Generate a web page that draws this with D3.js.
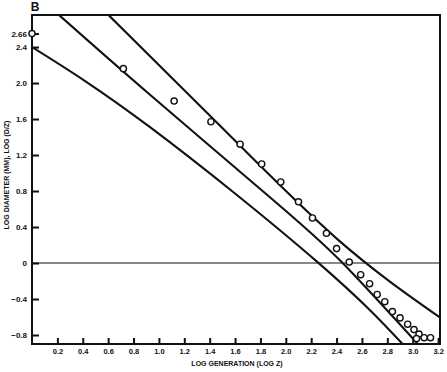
<!DOCTYPE html>
<html>
<head>
<meta charset="utf-8">
<script src="https://cdn.jsdelivr.net/npm/d3@7/dist/d3.min.js"></script>
<style>
  body { margin: 0; background: #fff; }
  svg { display: block; }
</style>
</head>
<body>
<div id="chart"></div>
<script>
// Log diameter vs log generation, panel B

// Measured points [log generation, log diameter]
const points = [
  [0, 2.55], [0.72, 2.16], [1.12, 1.80], [1.41, 1.57], [1.64, 1.32],
  [1.81, 1.10], [1.96, 0.90], [2.10, 0.68], [2.21, 0.50], [2.32, 0.33],
  [2.40, 0.16], [2.50, 0.01], [2.59, -0.13], [2.66, -0.23], [2.72, -0.35],
  [2.78, -0.43], [2.84, -0.54], [2.90, -0.61], [2.96, -0.68], [3.01, -0.74],
  [3.05, -0.79], [3.03, -0.84], [3.09, -0.83], [3.14, -0.83]
];

// Three fitted curves, a few points
const upperLine = [[0.60, 2.76], [1.50, 1.50], [2.41, 0.26], [3.22, -0.61]];
const middleLine = [[0.21, 2.76], [0.93, 1.87], [1.90, 0.70], [2.44, 0.01], [3.04, -0.90]];
const lowerLine = [[0, 2.40], [0.93, 1.51], [2.25, 0.01], [2.92, -0.90]];

// Tick values and the labels printed beside them
const xTickValues = [0.2, 0.4, 0.6, 0.8, 1.0, 1.2, 1.4, 1.6, 1.8, 2.0, 2.2, 2.4, 2.6, 2.8, 3.0, 3.2];
const xTickLabels = ['0.2', '0.4', '0.6', '0.8', '1.0', '1.2', '1.4', '1.6', '1.8', '2.0', '2.2', '2.4', '2.6', '2.8', '3.0', '3.2'];
const yTickValues = [2.55, 2.4, 2.0, 1.6, 1.2, 0.8, 0.4, 0, -0.4, -0.8];
const yTickLabels = ['2.66', '2.4', '2.0', '1.6', '1.2', '0.8', '0.4', '0', '\u22120.4', '\u22120.8'];

const W = 447, H = 372;
const plot = { left: 32, right: 440, top: 15, bottom: 344 };
const ink = '#111';
const font = '"Liberation Sans", Arial, sans-serif';

const svg = d3.select('#chart').append('svg')
  .attr('width', W)
  .attr('height', H);

const x = d3.scaleLinear().domain([0, 3.215]).range([plot.left, plot.right]);
const y = d3.scaleLinear().domain([-0.9, 2.756]).range([plot.bottom, plot.top]);

svg.append('clipPath').attr('id', 'clip')
  .append('rect')
  .attr('x', plot.left).attr('y', plot.top)
  .attr('width', plot.right - plot.left)
  .attr('height', plot.bottom - plot.top);

// zero line
svg.append('line')
  .attr('x1', plot.left).attr('x2', plot.right)
  .attr('y1', y(0)).attr('y2', y(0))
  .attr('stroke', ink).attr('stroke-width', 1);

// fitted curves (smooth spline through the read-off points)
const line = d3.line()
  .x(d => x(d[0]))
  .y(d => y(d[1]))
  .curve(d3.curveNatural);
svg.append('g').attr('clip-path', 'url(#clip)')
  .selectAll('path')
  .data([upperLine, middleLine, lowerLine])
  .enter()
  .append('path')
  .attr('d', line)
  .attr('fill', 'none')
  .attr('stroke', ink)
  .attr('stroke-width', 2.1);

// y axis, ticks pointing inward
const yAxis = svg.append('g')
  .attr('transform', `translate(${plot.left},0)`)
  .call(d3.axisLeft(y)
    .tickValues(yTickValues)
    .tickFormat((d, i) => yTickLabels[i])
    .tickSizeInner(-7)
    .tickSizeOuter(0)
    .tickPadding(5));
yAxis.select('.domain').remove();
yAxis.selectAll('.tick line').attr('stroke', ink).attr('stroke-width', 2);
yAxis.selectAll('.tick text')
  .attr('fill', ink)
  .style('font-family', font)
  .style('font-size', '8px')
  .style('font-weight', 'bold');

// x axis, ticks pointing inward
const xAxis = svg.append('g')
  .attr('transform', `translate(0,${plot.bottom})`)
  .call(d3.axisBottom(x)
    .tickValues(xTickValues)
    .tickFormat((d, i) => xTickLabels[i])
    .tickSizeInner(-6)
    .tickSizeOuter(0)
    .tickPadding(5));
xAxis.select('.domain').remove();
xAxis.selectAll('.tick line').attr('stroke', ink).attr('stroke-width', 2);
xAxis.selectAll('.tick text')
  .attr('fill', ink)
  .style('font-family', font)
  .style('font-size', '7.5px')
  .style('font-weight', 'bold');

// frame
svg.append('rect')
  .attr('x', plot.left).attr('y', plot.top)
  .attr('width', plot.right - plot.left)
  .attr('height', plot.bottom - plot.top)
  .attr('fill', 'none')
  .attr('stroke', ink)
  .attr('stroke-width', 2);

// points, drawn over the frame so the first one sits on the axis
svg.selectAll('.pt')
  .data(points)
  .enter()
  .append('circle')
  .attr('class', 'pt')
  .attr('cx', d => x(d[0]))
  .attr('cy', d => y(d[1]))
  .attr('r', 3.1)
  .attr('fill', '#fff')
  .attr('stroke', ink)
  .attr('stroke-width', 1.4);

// panel letter
svg.append('text')
  .attr('x', 35).attr('y', 11)
  .attr('text-anchor', 'middle')
  .attr('fill', ink)
  .style('font-family', font)
  .style('font-size', '12px')
  .style('font-weight', 'bold')
  .text('B');

// axis titles
svg.append('text')
  .attr('x', 237).attr('y', 366)
  .attr('text-anchor', 'middle')
  .attr('fill', ink)
  .style('font-family', font)
  .style('font-size', '7px')
  .style('font-weight', 'bold')
  .text('LOG GENERATION (LOG Z)');

svg.append('text')
  .attr('transform', 'translate(9,175) rotate(-90)')
  .attr('text-anchor', 'middle')
  .attr('fill', ink)
  .style('font-family', font)
  .style('font-size', '7px')
  .style('font-weight', 'bold')
  .text('LOG DIAMETER (MM), LOG (D/Z)');
</script>
</body>
</html>
